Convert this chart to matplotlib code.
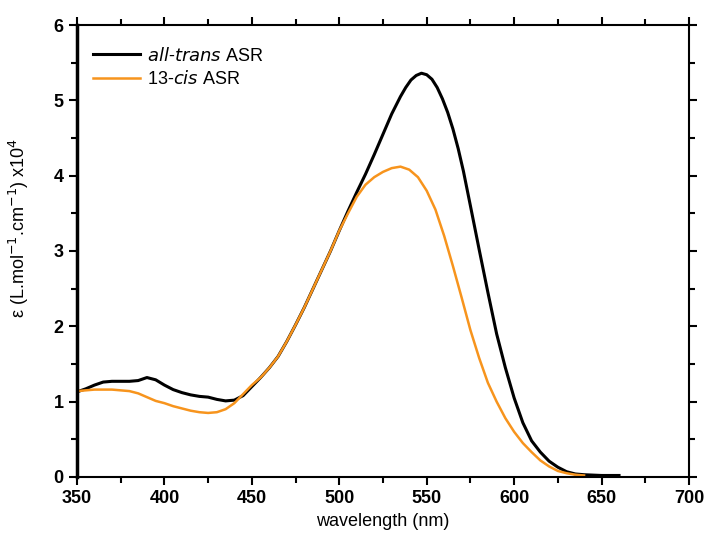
import matplotlib
matplotlib.use("Agg")
import matplotlib.pyplot as plt
from matplotlib.ticker import MultipleLocator

# wavelength grid (nm) and extinction coefficient (x10^4)
wl_trans = [350, 355, 360, 365, 370, 375, 380, 385, 390, 395, 400, 405, 410, 415,
            420, 425, 430, 435, 440, 445, 450, 455, 460, 465, 470, 475, 480, 485,
            490, 495, 500, 505, 510, 515, 520, 525, 530, 535, 538, 541, 544, 547,
            550, 553, 556, 559, 562, 565, 568, 571, 575, 580, 585, 590, 595, 600,
            605, 610, 615, 620, 625, 630, 635, 640, 650, 660]
eps_trans = [1.13, 1.17, 1.22, 1.26, 1.27, 1.27, 1.27, 1.28, 1.32, 1.29, 1.22, 1.16,
             1.12, 1.09, 1.07, 1.06, 1.03, 1.01, 1.02, 1.08, 1.20, 1.32, 1.45, 1.60,
             1.80, 2.02, 2.25, 2.50, 2.75, 3.00, 3.27, 3.53, 3.78, 4.02, 4.28, 4.55,
             4.82, 5.05, 5.17, 5.27, 5.33, 5.36, 5.34, 5.28, 5.17, 5.02, 4.84, 4.62,
             4.36, 4.06, 3.60, 3.02, 2.45, 1.90, 1.45, 1.05, 0.72, 0.48, 0.33, 0.21,
             0.13, 0.07, 0.04, 0.03, 0.02, 0.02]

wl_cis = [350, 360, 370, 375, 380, 385, 390, 395, 400, 405, 410, 415, 420, 425,
          430, 435, 440, 445, 450, 455, 460, 465, 470, 475, 480, 485, 490, 495,
          500, 505, 510, 515, 520, 525, 530, 535, 540, 545, 550, 555, 560, 565,
          570, 575, 580, 585, 590, 595, 600, 605, 610, 615, 620, 625, 630, 635, 640]
eps_cis = [1.14, 1.16, 1.16, 1.15, 1.14, 1.11, 1.06, 1.01, 0.98, 0.94, 0.91, 0.88,
           0.86, 0.85, 0.86, 0.90, 0.98, 1.10, 1.22, 1.32, 1.45, 1.60, 1.80, 2.02,
           2.25, 2.50, 2.75, 3.00, 3.27, 3.50, 3.72, 3.88, 3.98, 4.05, 4.10, 4.12,
           4.08, 3.98, 3.80, 3.55, 3.20, 2.80, 2.38, 1.95, 1.58, 1.25, 1.00, 0.78,
           0.60, 0.45, 0.33, 0.22, 0.14, 0.08, 0.05, 0.03, 0.02]

plt.rcParams['font.family'] = ['Liberation Sans', 'DejaVu Sans']

fig = plt.figure(figsize=(7.07, 5.40), dpi=100)
ax = fig.add_axes([0.1089, 0.1167, 0.8656, 0.837])

ax.plot(wl_trans, eps_trans, color='black', lw=2.2, label='$\\it{all}$-$\\it{trans}$ ASR')
ax.plot(wl_cis, eps_cis, color='#f7941d', lw=1.8, label='13-$\\it{cis}$ ASR')

ax.set_xlim(350, 700)
ax.set_ylim(0, 6)
ax.xaxis.set_major_locator(MultipleLocator(50))
ax.xaxis.set_minor_locator(MultipleLocator(25))
ax.yaxis.set_major_locator(MultipleLocator(1))
ax.yaxis.set_minor_locator(MultipleLocator(0.5))

ax.tick_params(which='both', direction='out', top=True, right=True,
               labeltop=False, labelright=False, width=1.5)
ax.tick_params(which='major', length=6, labelsize=13)
ax.tick_params(which='minor', length=4)
for lab in ax.get_xticklabels() + ax.get_yticklabels():
    lab.set_fontweight('bold')

for side in ['top', 'bottom', 'right']:
    ax.spines[side].set_linewidth(1.5)
ax.spines['left'].set_linewidth(2.5)

ax.set_xlabel('wavelength (nm)', fontsize=13)
ax.set_ylabel('ε (L.mol$^{-1}$.cm$^{-1}$) x10$^{4}$', fontsize=13)
ax.yaxis.set_label_coords(-0.075, 0.55)

ax.legend(loc='upper left', frameon=False, fontsize=13, handlelength=2.6,
          handletextpad=0.4, borderaxespad=0.3, labelspacing=0.3,
          bbox_to_anchor=(0.005, 0.98))

fig.savefig('out.png', dpi=100)
